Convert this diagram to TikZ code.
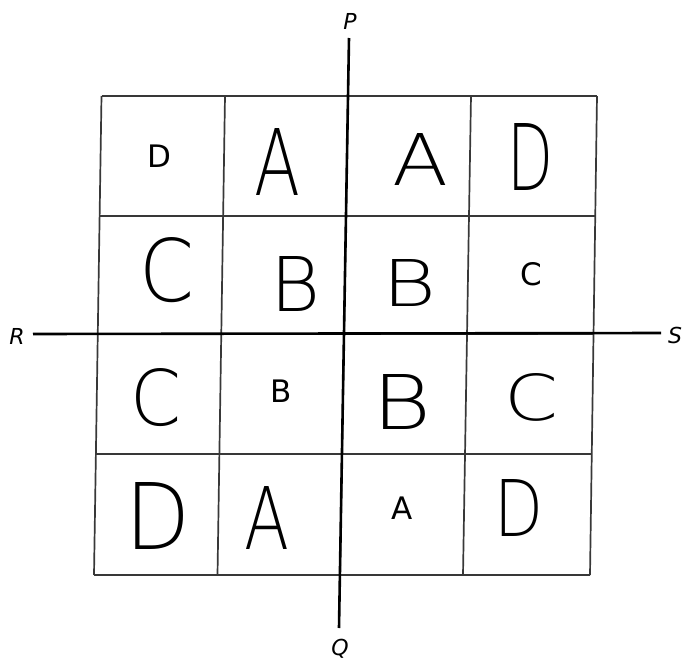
\documentclass[tikz,border=0pt]{standalone}
\usepackage{fontspec}
\setmainfont{DejaVu Sans}
\IfFontExistsTF{DejaVu Sans ExtraLight}
  {\newfontfamily\handfont{DejaVu Sans ExtraLight}}
  {\IfFontExistsTF{Fira Sans Light}
     {\newfontfamily\handfont{Fira Sans Light}}
     {\newcommand{\handfont}{\sffamily}}}
\newcommand{\hw}[3]{\resizebox{#1pt}{#2pt}{\handfont\fontsize{90}{90}\selectfont #3}}
\tikzset{
  gridline/.style={line width=1.7pt, draw=black!78},
  axisline/.style={line width=2.6pt, draw=black},
  typed/.style={font=\fontsize{31}{31}\selectfont, inner sep=0pt},
  hand/.style={inner sep=0pt},
  axlabel/.style={font=\fontsize{22}{22}\selectfont\itshape, inner sep=0pt}
}
\begin{document}
\begin{tikzpicture}[x=1pt,y=-1pt]
\useasboundingbox (0,0) rectangle (686,664);
% grid (slightly sheared like the scan)
\foreach \xt/\xb in {101.5/94, 225/217.5, 348/340, 471/463, 597/590}
  \draw[gridline] (\xt,96) -- (\xb,575);
\draw[gridline] (101.5,96) -- (597,96);
\draw[gridline] (99.5,216) -- (595,216);
\draw[gridline] (97.5,334) -- (593.5,334);
\draw[gridline] (95.5,454) -- (591.5,454);
\draw[gridline] (94,575) -- (590,575);
% axis lines
\coordinate (ptop) at (349,38);
\coordinate (qbot) at (339,628);
\coordinate (rleft) at (33,334);
\coordinate (sright) at (661,333);
\draw[axisline] (ptop) -- (qbot);
\draw[axisline] (rleft) -- (sright);
% axis labels
\node[axlabel] (P) at (350,21) {P};
\node[axlabel] (Q) at (340,649) {Q};
\node[axlabel] (R) at (17,336) {R};
\node[axlabel] (S) at (675,335) {S};
% row 1
\node[typed] (c11) at (159,156) {D};
\node[hand] (c12) at (277,162) {\hw{46}{67}{A}};
\node[hand] (c13) at (420,159) {\hw{56}{52}{A}};
\node[hand] (c14) at (530,157) {\hw{46}{67}{D}};
% row 2
\node[hand] (c21) at (167,270) {\hw{55}{64}{C}};
\node[hand] (c22) at (295,284) {\hw{50}{55}{B}};
\node[hand] (c23) at (409,283) {\hw{54}{47}{B}};
\node[typed] (c24) at (531,274) {C};
% row 3
\node[hand] (c31) at (156,398) {\hw{51}{57}{C}};
\node[typed] (c32) at (281,391) {B};
\node[hand] (c33) at (402,402) {\hw{59}{55}{B}};
\node[hand] (c34) at (531,397) {\hw{54}{47}{C}};
% row 4
\node[hand] (c41) at (158,516) {\hw{65}{67}{D}};
\node[hand] (c42) at (267,518) {\hw{45}{63}{A}};
\node[typed] (c43) at (402,508) {A};
\node[hand] (c44) at (519,508) {\hw{49}{57}{D}};
\end{tikzpicture}
\end{document}
